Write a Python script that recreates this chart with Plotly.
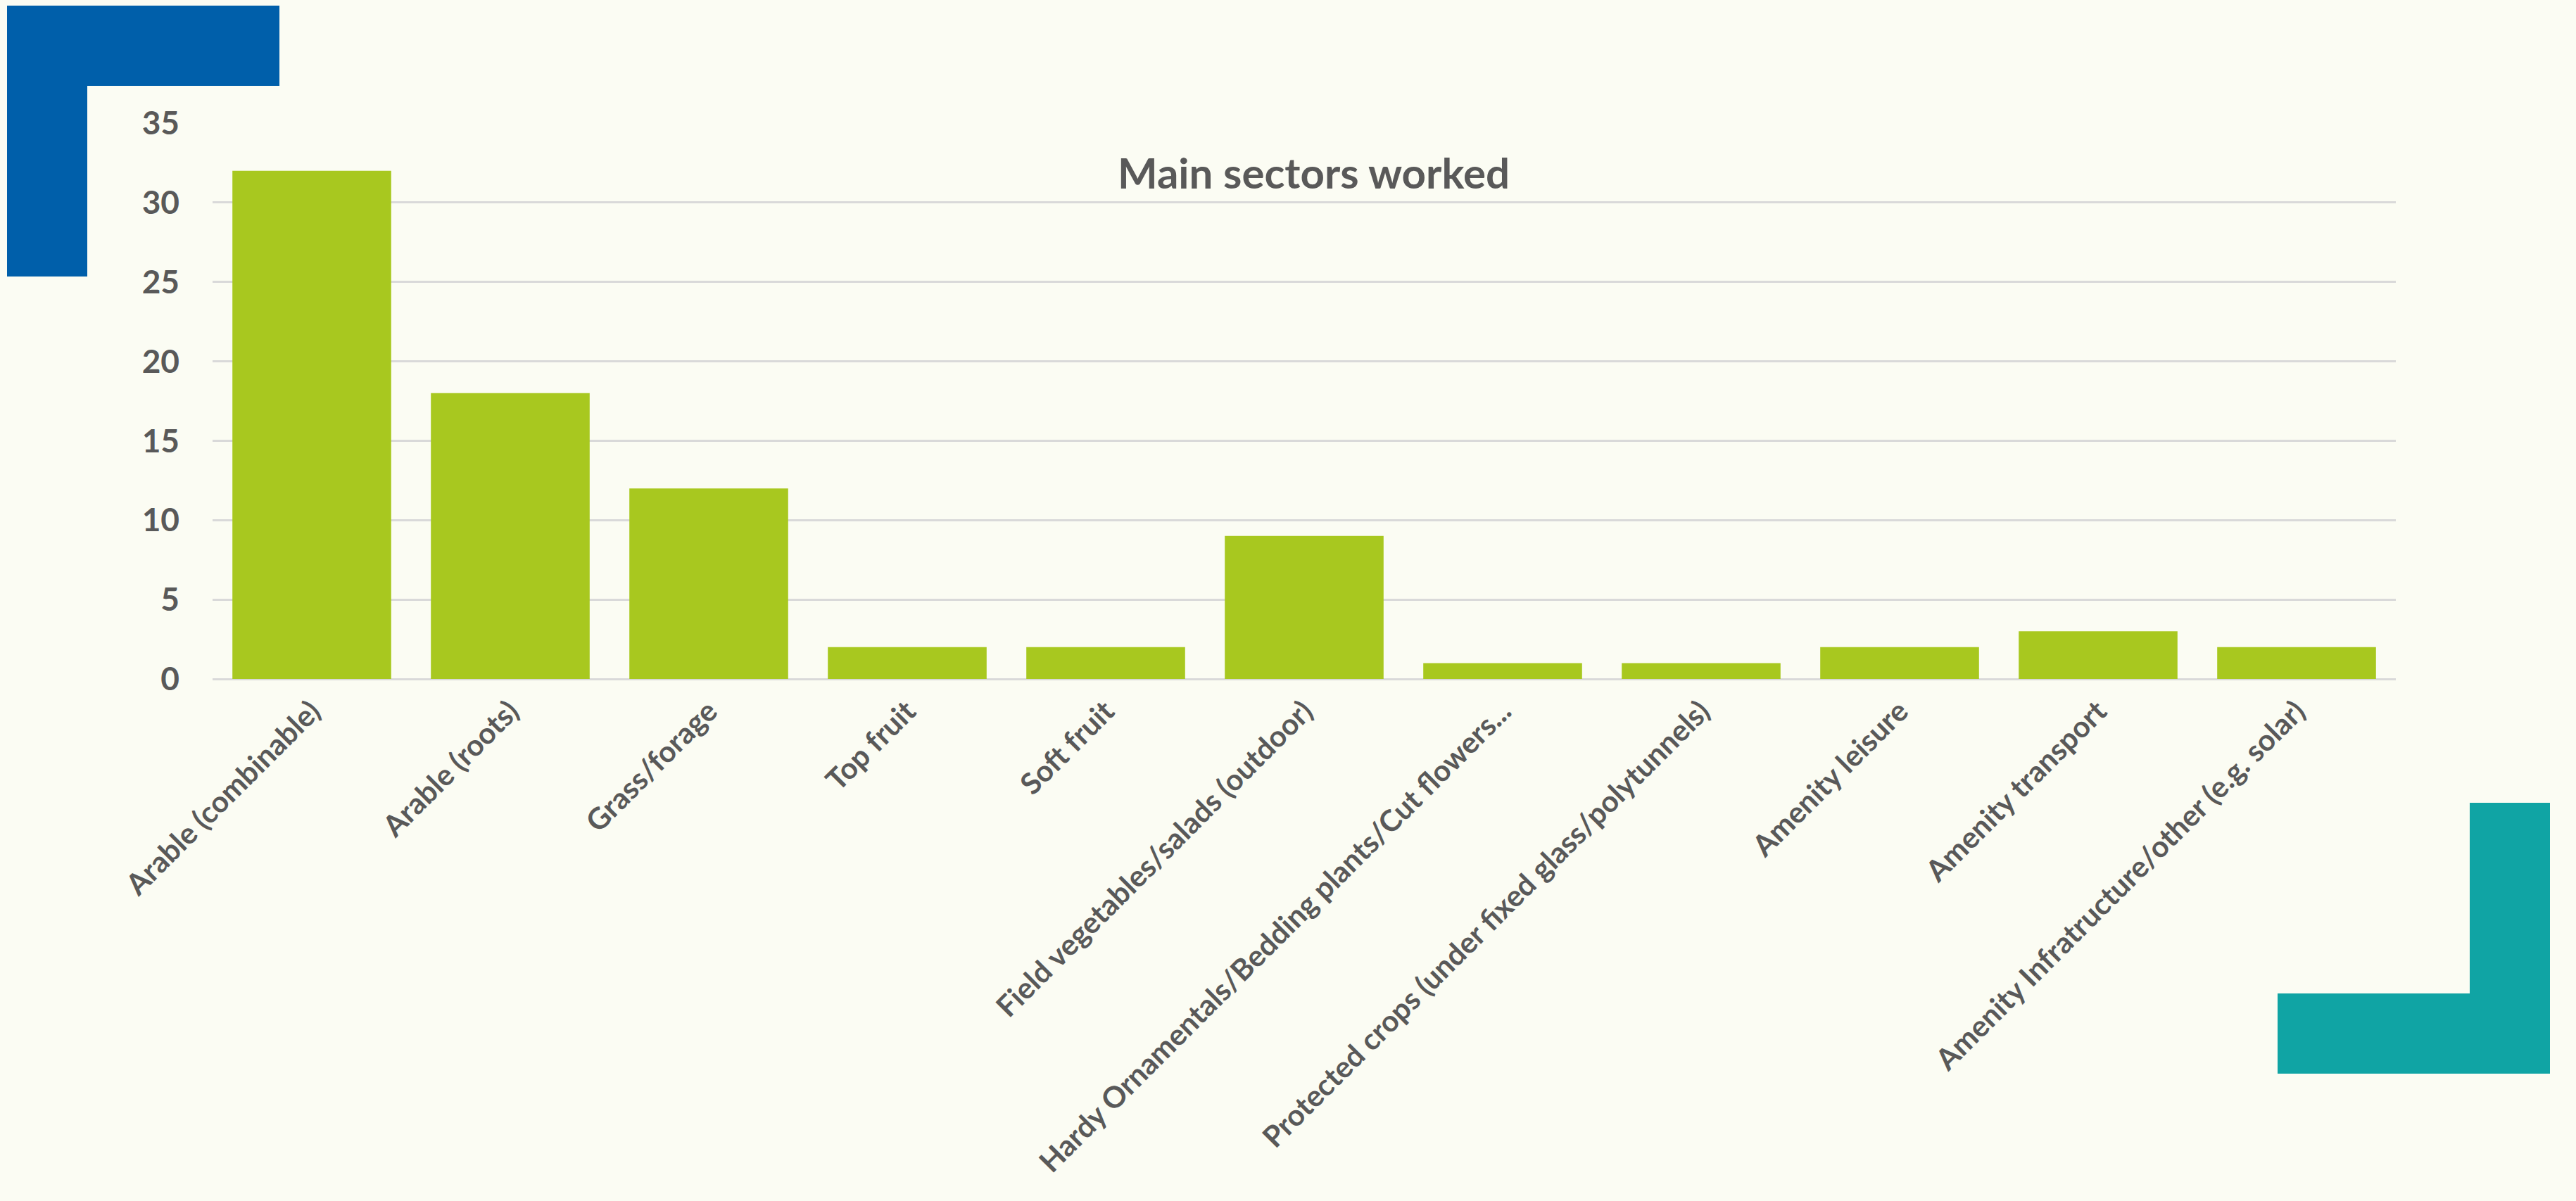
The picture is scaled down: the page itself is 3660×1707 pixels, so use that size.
import plotly.graph_objects as go

# Survey results: main sectors worked
sectors = [
    "Arable (combinable)",
    "Arable (roots)",
    "Grass/forage",
    "Top fruit",
    "Soft fruit",
    "Field vegetables/salads (outdoor)",
    "Hardy Ornamentals/Bedding plants/Cut flowers...",
    "Protected crops (under fixed glass/polytunnels)",
    "Amenity leisure",
    "Amenity transport",
    "Amenity Infratructure/other (e.g. solar)",
]
counts = [32, 18, 12, 2, 2, 9, 1, 1, 2, 3, 2]
y_ticks = [0, 5, 10, 15, 20, 25, 30, 35]

W, H = 3660, 1707
L, R, T, B = 302, 256, 175, 742
PW, PH = W - L - R, H - T - B

BG = "#FBFCF3"
TEXT = "#595959"
FONT = "Lato"


def to_paper(px, py):
    return (px - L) / PW, (H - B - py) / PH


def l_path(points):
    pts = [to_paper(x, y) for x, y in points]
    d = "M " + " L ".join(f"{x:.5f},{y:.5f}" for x, y in pts) + " Z"
    return d


fig = go.Figure(
    go.Bar(
        x=sectors,
        y=counts,
        marker=dict(color="#A8C81F", line=dict(width=0)),
        hoverinfo="x+y",
    )
)

# Decorative corner brackets
blue_l = l_path([(10, 8), (397, 8), (397, 122), (124, 122), (124, 393), (10, 393)])
teal_l = l_path([(3509, 1141), (3623, 1141), (3623, 1526), (3236, 1526), (3236, 1412), (3509, 1412)])

fig.update_layout(
    width=W,
    height=H,
    margin=dict(l=L, r=R, t=T, b=B, pad=0, autoexpand=False),
    paper_bgcolor=BG,
    plot_bgcolor=BG,
    bargap=0.2,
    showlegend=False,
    font=dict(family=FONT, color=TEXT, size=46),
    shapes=[
        dict(type="path", path=blue_l, xref="paper", yref="paper",
             fillcolor="#005FAA", line=dict(width=0), layer="below"),
        dict(type="path", path=teal_l, xref="paper", yref="paper",
             fillcolor="#10A4A4", line=dict(width=0), layer="below"),
    ],
    annotations=[
        dict(
            text="<b>Main sectors worked</b>",
            x=0.5045, y=to_paper(0, 245)[1],
            xref="paper", yref="paper",
            xanchor="center", yanchor="middle",
            showarrow=False,
            font=dict(family=FONT, size=60, color=TEXT),
        )
    ],
)

fig.update_xaxes(
    automargin=False,
    tickangle=-45,
    tickfont=dict(family=FONT, size=42, color=TEXT, weight="bold"),
    showgrid=False,
    showline=False,
    ticks="",
    ticklabelstandoff=12,
)

fig.update_yaxes(
    automargin=False,
    range=[0, 35],
    tickvals=y_ticks,
    ticktext=[str(v) for v in y_ticks],
    tickfont=dict(family=FONT, size=46, color=TEXT, weight="bold"),
    showgrid=True,
    gridcolor="#D9D9D9",
    gridwidth=3,
    zeroline=True,
    zerolinecolor="#D9D9D9",
    zerolinewidth=3,
    showline=False,
    ticks="",
    ticklabelstandoff=46,
)

fig.write_html("out.html")
